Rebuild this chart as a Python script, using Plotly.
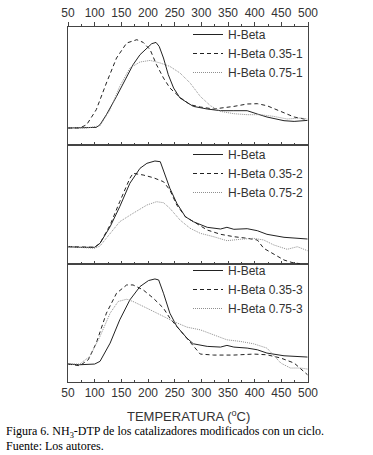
import plotly.graph_objects as go

# ---------------- data (temperature in °C, signal in arbitrary units) ----------------
# Panel 1
hb1_T = [50, 78, 103, 110, 122, 141, 160, 172, 185, 198, 207, 215, 221, 229, 238, 248, 260, 273, 285, 311, 336, 361, 386, 405, 423, 455, 474, 499]
hb1_v = [16.7, 16.7, 17.3, 20, 30, 48.3, 68.3, 80, 90, 96.7, 101, 102.3, 98.3, 86.7, 70, 56.7, 46.7, 42.3, 38.3, 35.7, 34, 34, 34, 30.7, 27.7, 24, 23.3, 24.3]
d1_T = [50, 72, 85, 103, 122, 141, 160, 179, 191, 204, 216, 229, 241, 260, 279, 298, 323, 342, 361, 386, 405, 423, 449, 474, 499]
d1_v = [16.7, 16.7, 20, 35, 61.7, 86.7, 101.7, 105, 102.3, 95, 80, 66.7, 56.7, 47.3, 40, 37.7, 35.7, 36.7, 38.3, 40.7, 41, 39, 33.3, 27.7, 25]
p1_T = [50, 85, 110, 129, 147, 166, 185, 204, 223, 241, 260, 279, 298, 317, 336, 361, 386, 411, 436, 461, 486, 499]
p1_v = [16.7, 16.7, 19, 35, 58.3, 76.7, 82.7, 84.3, 81.7, 78.3, 71.7, 61.7, 48.3, 39, 33.3, 31, 30, 30, 28.3, 25.7, 26.7, 25.7]

# Panel 2
hb2_T = [50, 72, 100, 110, 129, 147, 166, 185, 198, 213, 223, 229, 241, 254, 270, 285, 311, 336, 348, 361, 386, 405, 423, 455, 499]
hb2_v = [17.3, 16.7, 16.7, 20.7, 37.3, 57.3, 80.7, 95.7, 100.7, 103, 102.3, 94, 75.7, 60.7, 47.3, 42.3, 36.7, 35, 36.7, 34.7, 35.3, 33.3, 29.7, 26.7, 25]
d2_T = [50, 100, 110, 129, 147, 166, 172, 191, 210, 229, 241, 254, 270, 285, 311, 336, 361, 386, 405, 417, 436, 455, 470, 485]
d2_v = [17.3, 16.7, 20.7, 39, 62.3, 85.7, 90.7, 89, 86.3, 82.3, 74, 59, 47.3, 42.3, 34, 29.7, 27.3, 25.7, 24, 15.7, 10, 4, 1.5, 0.3]
p2_T = [50, 100, 110, 129, 147, 172, 198, 216, 229, 241, 260, 279, 298, 323, 348, 373, 398, 417, 436, 461, 480, 499]
p2_v = [17.3, 15.7, 18, 30.7, 42.3, 50.7, 59, 62.3, 61.3, 55.7, 44, 35.7, 30.7, 27.3, 23.3, 24.7, 25.7, 24, 19, 14.7, 17.3, 13.3]

# Panel 3
hb3_T = [50, 72, 100, 110, 129, 147, 166, 185, 201, 213, 220, 229, 241, 254, 273, 285, 311, 336, 348, 361, 386, 405, 423, 455, 499]
hb3_v = [18, 17.3, 18, 20.7, 39, 62.3, 82.3, 95.7, 101.7, 103.3, 102.3, 89, 69, 55.7, 44, 38.3, 35.7, 35, 36.7, 35, 34, 32.3, 29, 26.3, 25]
d3_T = [50, 72, 88, 103, 122, 141, 160, 172, 191, 210, 229, 241, 254, 270, 285, 298, 323, 361, 398, 423, 449, 474, 499]
d3_v = [18, 16.3, 22.3, 39, 69, 89, 97.3, 97.3, 92.3, 84, 74, 64, 55.7, 45.7, 35.7, 28, 27, 27, 28, 27.3, 24, 19, 7.3]
p3_T = [50, 72, 91, 110, 129, 144, 160, 172, 198, 223, 248, 273, 298, 323, 348, 373, 398, 423, 436, 449, 467, 486, 499]
p3_v = [18, 18, 25.7, 45.7, 69, 80.7, 83, 80.7, 74, 67.3, 60.7, 55, 52.3, 47.3, 42.3, 40.7, 38.3, 34, 26.3, 19, 14, 14, 13]

names1 = ["H-Beta", "H-Beta 0.35-1", "H-Beta 0.75-1"]
names2 = ["H-Beta", "H-Beta 0.35-2", "H-Beta 0.75-2"]
names3 = ["H-Beta", "H-Beta 0.35-3", "H-Beta 0.75-3"]

x_ticks = [50, 100, 150, 200, 250, 300, 350, 400, 450, 500]
x_title = "TEMPERATURA (<sup>o</sup>C)"
caption1 = "Figura 6. NH<sub>3</sub>-DTP de los catalizadores modificados con un ciclo."
caption2 = "Fuente: Los autores."

# ---------------- figure ----------------
AX = "#444444"
FONT = "Arial, Liberation Sans, sans-serif"
styles = [
    dict(color="#222222", width=1.0, dash="solid"),
    dict(color="#222222", width=1.0, dash="4px,3px"),
    dict(color="#8f8f8f", width=1.0, dash="1px,1px"),
]

fig = go.Figure()
panels = [
    ("x3", "y3", "legend", names1, [(hb1_T, hb1_v), (d1_T, d1_v), (p1_T, p1_v)]),
    ("x2", "y2", "legend2", names2, [(hb2_T, hb2_v), (d2_T, d2_v), (p2_T, p2_v)]),
    ("x", "y", "legend3", names3, [(hb3_T, hb3_v), (d3_T, d3_v), (p3_T, p3_v)]),
]
for xa, ya, lg, names, series in panels:
    for (t, v), nm, st in zip(series, names, styles):
        fig.add_trace(go.Scatter(x=t, y=v, name=nm, mode="lines", line=st,
                                 xaxis=xa, yaxis=ya, legend=lg))

H = 355.0
def py(p):  # pixel row -> paper y
    return (382.0 - p) / H
def px(p):  # pixel column -> paper x
    return (p - 68.0) / 240.0

d3 = [0, py(264)]
d2 = [py(264), py(144.7)]
d1 = [py(144.7), 1]

xcommon = dict(range=[50, 500], showline=True, linecolor=AX, linewidth=1, mirror=True,
               showgrid=False, zeroline=False, tickvals=x_ticks, ticks="inside",
               ticklen=3, tickcolor=AX, tickwidth=1, automargin=False,
               minor=dict(dtick=25, tick0=50, ticks="inside", ticklen=2, tickcolor=AX, showgrid=False),
               tickfont=dict(family=FONT, size=12, color="#333333"))
ycommon = dict(showline=True, linecolor=AX, linewidth=1, mirror=True, showgrid=False,
               zeroline=False, ticks="", showticklabels=False, automargin=False)

fig.update_layout(
    width=373, height=455,
    margin=dict(l=68, r=65, t=27, b=73, autoexpand=False),
    paper_bgcolor="white", plot_bgcolor="white",
    xaxis=dict(xcommon, anchor="y", showticklabels=True),
    xaxis2=dict(xcommon, anchor="y2", showticklabels=False),
    xaxis3=dict(xcommon, anchor="y3", showticklabels=False),
    xaxis4=dict(xcommon, anchor="y3", overlaying="x3", side="top", showticklabels=True,
                ticks="outside", mirror=False, ticklen=4,
                minor=dict(dtick=25, tick0=50, ticks="outside", ticklen=2, tickcolor=AX, showgrid=False)),
    yaxis=dict(ycommon, domain=d3, range=[0, 118.3]),
    yaxis2=dict(ycommon, domain=d2, range=[0, 119.3]),
    yaxis3=dict(ycommon, domain=d1, range=[0, 117.7]),
    showlegend=True,
)
legcommon = dict(xanchor="left", yanchor="top", bgcolor="rgba(0,0,0,0)", borderwidth=0,
                 font=dict(family=FONT, size=12, color="#333333"), tracegroupgap=0)
fig.update_layout(
    legend=dict(legcommon, x=px(188), y=py(20)),
    legend2=dict(legcommon, x=px(188), y=py(140)),
    legend3=dict(legcommon, x=px(188), y=py(256)),
)
# dummy trace to activate the top axis
fig.add_trace(go.Scatter(x=[50, 500], y=[None, None], xaxis="x4", yaxis="y3",
                         showlegend=False, hoverinfo="skip"))

fig.add_annotation(text=x_title, xref="paper", yref="paper", x=0.5, y=py(416),
                   xanchor="center", yanchor="middle", showarrow=False,
                   font=dict(family=FONT, size=13, color="#333333"))
fig.add_annotation(text=caption1, xref="paper", yref="paper", x=px(4), y=py(432),
                   xanchor="left", yanchor="middle", showarrow=False,
                   font=dict(family="Times New Roman, Liberation Serif, serif", size=12, color="black"))
fig.add_annotation(text=caption2, xref="paper", yref="paper", x=px(4), y=py(446),
                   xanchor="left", yanchor="middle", showarrow=False,
                   font=dict(family="Times New Roman, Liberation Serif, serif", size=12, color="black"))

fig.write_html("out.html", config={"displayModeBar": False},
               post_script="document.body.style.margin='0px';document.body.style.overflow='hidden';")
